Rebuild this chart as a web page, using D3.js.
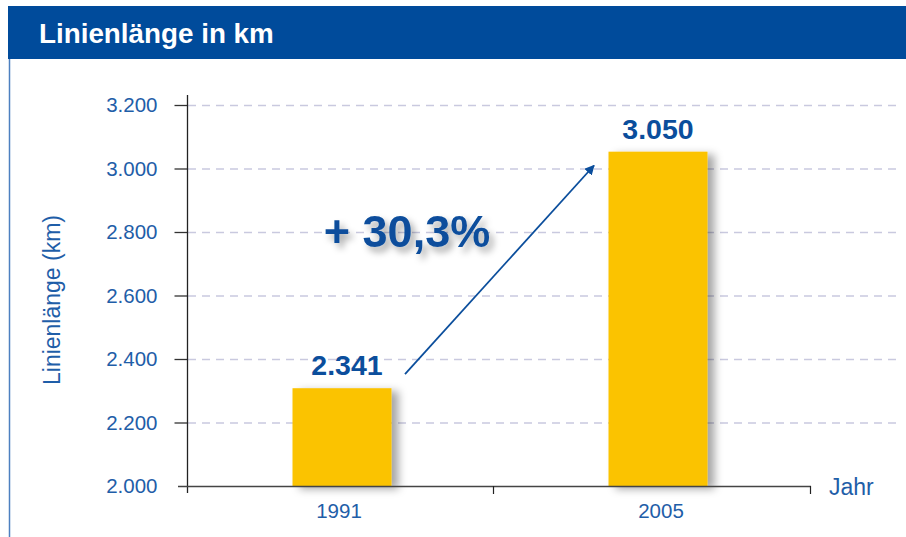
<!DOCTYPE html>
<html>
<head>
<meta charset="utf-8">
<script src="https://cdn.jsdelivr.net/npm/d3@7"></script>
<style>
  body { margin: 0; background: #fff; }
  svg { display: block; font-family: "Liberation Sans", Arial, sans-serif; }
</style>
</head>
<body>
<svg id="chart"></svg>
<script>
// data
let years = ["1991", "2005"];
let barLengths = [2308, 3053];      // bar heights as drawn
let printedLengths = [2341, 3050];  // numbers printed above bars
let yTicks = [2000, 2200, 2400, 2600, 2800, 3000, 3200];
let growthText = "+ 30,3%";

let width = 906;
let height = 537;
let blue = "#0b4e9c";
let textBlue = "#1f5ea8";

let de = d3.formatLocale({decimal: ",", thousands: ".", grouping: [3], currency: ["", "€"]});
let fmt = de.format(",d");

let svg = d3.select("#chart")
  .attr("width", width)
  .attr("height", height);

let defs = svg.append("defs");
let shadow = defs.append("filter").attr("id", "shadow")
  .attr("x", "-20%").attr("y", "-20%").attr("width", "150%").attr("height", "150%");
shadow.append("feDropShadow")
  .attr("dx", 7).attr("dy", 3).attr("stdDeviation", 4)
  .attr("flood-color", "#000").attr("flood-opacity", 0.35);

let textShadow = defs.append("filter").attr("id", "tshadow")
  .attr("x", "-20%").attr("y", "-30%").attr("width", "150%").attr("height", "170%");
textShadow.append("feDropShadow")
  .attr("dx", 4).attr("dy", 5).attr("stdDeviation", 3.5)
  .attr("flood-color", "#000").attr("flood-opacity", 0.35);

defs.append("marker")
  .attr("id", "arrow")
  .attr("viewBox", "0 0 10 10")
  .attr("refX", 9).attr("refY", 5)
  .attr("markerWidth", 10).attr("markerHeight", 10)
  .attr("markerUnits", "userSpaceOnUse")
  .attr("orient", "auto")
  .append("path")
  .attr("d", "M0,0 L10,5 L0,10 z")
  .attr("fill", blue);

// frame + header
svg.append("line")
  .attr("x1", 9.5).attr("x2", 9.5)
  .attr("y1", 59).attr("y2", height)
  .attr("stroke", "#4d80c0").attr("stroke-width", 1.5);

svg.append("rect")
  .attr("x", 8).attr("y", 6)
  .attr("width", width - 8).attr("height", 53)
  .attr("fill", "#004b9b");

svg.append("text")
  .attr("x", 39).attr("y", 43)
  .attr("fill", "#fff")
  .style("font-size", "27.8px")
  .style("font-weight", "bold")
  .text("Linienlänge in km");

// scales
let yScale = d3.scaleLinear()
  .domain([2000, 3200])
  .range([486, 105]);

let xScale = d3.scaleBand()
  .domain(years)
  .range([178, 810]);

let barWidth = 99;
let barShift = 6;
let barCenter = (d) => xScale(d) + xScale.bandwidth() / 2 + barShift;

// grid
svg.append("g")
  .selectAll("line")
  .data(yTicks.slice(1))
  .enter()
  .append("line")
  .attr("x1", 188).attr("x2", 896)
  .attr("y1", (d) => yScale(d) + 0.5)
  .attr("y2", (d) => yScale(d) + 0.5)
  .attr("stroke", "#c9c9df")
  .attr("stroke-width", 1.3)
  .attr("stroke-dasharray", "8,6");

// bars
svg.append("g")
  .selectAll("rect")
  .data(years)
  .enter()
  .append("rect")
  .attr("x", (d) => barCenter(d) - barWidth / 2)
  .attr("y", (d, i) => yScale(barLengths[i]))
  .attr("width", barWidth)
  .attr("height", (d, i) => yScale(2000) - yScale(barLengths[i]))
  .attr("fill", "#fbc300")
  .attr("filter", "url(#shadow)");

// axes
let yAxis = d3.axisLeft(yScale)
  .tickValues(yTicks)
  .tickSize(13)
  .tickPadding(17)
  .tickFormat((d) => fmt(d));

let yG = svg.append("g")
  .attr("transform", "translate(187.5,0)")
  .call(yAxis);
yG.select(".domain").remove();
yG.selectAll(".tick line").attr("stroke", "#333").attr("stroke-width", 1.3);
yG.selectAll(".tick").filter((d) => d === 2000).select("line").remove();
yG.selectAll("text")
  .attr("fill", textBlue)
  .style("font-size", "20.5px")
  .style("font-family", "Liberation Sans, Arial, sans-serif");

svg.append("line")
  .attr("x1", 187.5).attr("x2", 187.5)
  .attr("y1", 95).attr("y2", 493)
  .attr("stroke", "#222").attr("stroke-width", 1.3);

let xAxis = d3.axisBottom(xScale)
  .tickSize(0)
  .tickPadding(17);

let xG = svg.append("g")
  .attr("transform", "translate(0,486.5)")
  .call(xAxis);
xG.select(".domain").remove();
xG.selectAll(".tick").attr("transform", (d, i) => "translate(" + (barCenter(d) + (i === 0 ? -3 : 3)) + ",0)");
xG.selectAll("text")
  .attr("fill", textBlue)
  .style("font-size", "20.5px")
  .style("font-family", "Liberation Sans, Arial, sans-serif");

svg.append("line")
  .attr("x1", 178).attr("x2", 811)
  .attr("y1", 486.5).attr("y2", 486.5)
  .attr("stroke", "#444").attr("stroke-width", 1.5);

// band boundary ticks
svg.append("g")
  .selectAll("line")
  .data(years.slice(1).concat(["end"]))
  .enter()
  .append("line")
  .attr("x1", (d) => d === "end" ? 810.5 : xScale(d) - 0.5)
  .attr("x2", (d) => d === "end" ? 810.5 : xScale(d) - 0.5)
  .attr("y1", 486).attr("y2", 494)
  .attr("stroke", "#222").attr("stroke-width", 1.2);

// axis titles
svg.append("text")
  .attr("transform", "translate(60,300) rotate(-90)")
  .attr("text-anchor", "middle")
  .attr("fill", textBlue)
  .style("font-size", "23px")
  .text("Linienlänge (km)");

svg.append("text")
  .attr("x", 829).attr("y", 495)
  .attr("fill", textBlue)
  .style("font-size", "23px")
  .text("Jahr");

// value labels
svg.append("g")
  .selectAll("text")
  .data(years)
  .enter()
  .append("text")
  .attr("x", (d, i) => barCenter(d) + (i === 0 ? 5 : 0))
  .attr("y", (d, i) => yScale(barLengths[i]) - 13)
  .attr("text-anchor", "middle")
  .attr("fill", blue)
  .style("font-size", "28.5px")
  .style("font-weight", "bold")
  .text((d, i) => fmt(printedLengths[i]));

// growth arrow
svg.append("line")
  .attr("x1", barCenter(years[0]) + 63).attr("y1", yScale(barLengths[0]) - 14)
  .attr("x2", barCenter(years[1]) - 64).attr("y2", yScale(3000) - 3)
  .attr("stroke", blue).attr("stroke-width", 1.8)
  .attr("marker-end", "url(#arrow)");

svg.append("text")
  .attr("x", 407).attr("y", 247)
  .attr("text-anchor", "middle")
  .attr("fill", blue)
  .attr("filter", "url(#tshadow)")
  .style("font-size", "45px")
  .style("font-weight", "bold")
  .text(growthText);
</script>
</body>
</html>
